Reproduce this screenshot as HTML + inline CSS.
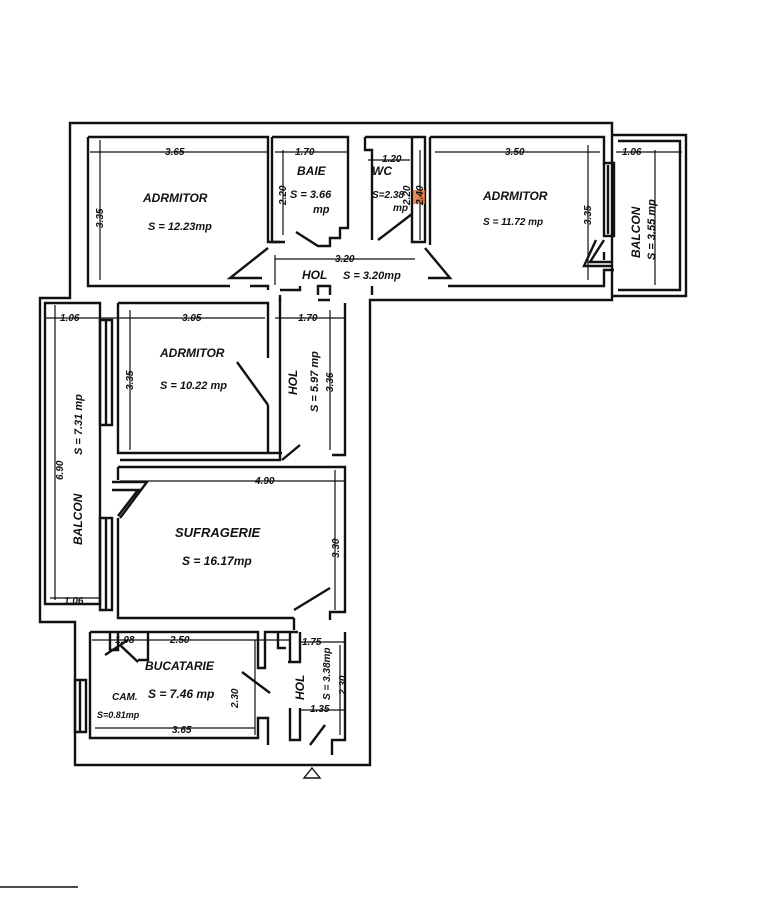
<!DOCTYPE html>
<html><head><meta charset="utf-8"><style>
html,body{margin:0;padding:0;background:#fff;width:768px;height:900px;overflow:hidden}
svg{display:block}
text{font-family:"Liberation Sans",sans-serif;font-style:italic;font-weight:bold;fill:#111}
</style></head><body>
<svg width="768" height="900" viewBox="0 0 768 900" xmlns="http://www.w3.org/2000/svg">
<g fill="none" stroke="#111" stroke-width="2.4">
<!-- outer -->
<path d="M70,123 H612 V300 H370 V765 H75 V622 H40 V298 H70 Z"/>
<!-- right balcony -->
<path d="M612,135 H686 V296 H612"/>
<path d="M618,141 H680 V290 H618"/>
<!-- bedroom 1 -->
<path d="M88,137 H268 V242 H280 M88,137 V286 H230 M250,286 H268 V290"/>
<!-- bath -->
<path d="M272,137 V242 H285 M296,232 L318,246 H330 V238 H340 V228 H348 V137 H272"/>
<!-- wc -->
<path d="M365,137 V150 H372 V240 M412,137 V242 H425 V137 H365 M412,137"/>
<path d="M378,240 L412,214"/>
<!-- bedroom 2 right -->
<path d="M430,137 V242 M430,242 V245 M448,286 H604 V270 H614 M430,137 H604 V165 M604,252 V260"/>
<path d="M604,163 H614 V236 H604 Z M608,165 V234"/>
<path d="M604,240 L590,262 H612 M596,240 L584,266 H612"/>
<!-- hall doors top -->
<path d="M268,248 L230,278 H262 M425,248 L450,278 H428"/>
<path d="M318,295 V286 H330 V295 M372,286 V295"/>
<path d="M280,290 H300 V286 M318,300 H330"/>
<!-- left balcony -->
<path d="M45,303 H100 V604 H45 Z"/>
<path d="M100,320 V425 H112 V320 Z M106,320 V425"/>
<path d="M100,518 V610 H112 V518 Z M106,518 V610"/>
<!-- bedroom 3 -->
<path d="M118,303 H268 V358 M118,303 V453 H282 M268,405 V453"/>
<path d="M237,362 L268,405"/>
<path d="M280,303 V295 M345,303 V455 H332 M282,460 L300,445"/>
<path d="M280,298 V460 H120"/>
<!-- sufragerie -->
<path d="M118,467 H345 V612 H330 V620 M118,467 V480 M118,518 V618 H294"/>
<path d="M112,482 L147,482 L120,518 M112,490 L138,490 L118,516"/>
<path d="M294,618 V630 M294,610 L330,588"/>
<!-- kitchen -->
<path d="M90,632 H258 V668 H265 V632 H298 M90,632 V738 H258 V718 H268 V745 M75,680 V732 H86 V680 Z M80,680 V732"/>
<path d="M110,632 V650 H118 V632 M148,632 V660 H138"/>
<path d="M120,645 L138,662 M105,655 L128,640"/>
<path d="M242,672 L270,693"/>
<!-- hol bottom -->
<path d="M300,632 V662 H290 V632 M300,662 H288 M345,632 V740 H332 V755 M300,708 V740 H290 V708 M310,745 L325,725"/>
<path d="M278,632 V648 H286"/>
<!-- dimension lines -->
<g stroke-width="1.2">
<path d="M90,152 H268 M275,152 H348 M368,160 H410 M435,152 H600 M616,152 H682"/>
<path d="M100,140 V280 M283,150 V235 M420,150 V240 M588,145 V280 M655,150 V285"/>
<path d="M275,259 H415 M275,255 V285"/>
<path d="M45,318 H265 M275,318 H345 M55,305 V600 M130,310 V450 M330,310 V450"/>
<path d="M120,481 H345 M335,470 V610 M50,598 H100"/>
<path d="M92,640 H290 M255,640 V735 M95,728 H255 M300,642 H345 M300,710 H345 M340,645 V735"/>
</g>
<path d="M312,768 L320,778 L304,778 Z" stroke-width="1.4"/>
<path d="M0,887 H78" stroke-width="1.4"/>
</g>
<rect x="413" y="190" width="12" height="14" fill="#e07030" opacity="0.8"/>
<!-- labels -->
<g font-size="10">
<text x="165" y="155">3.65</text>
<text x="295" y="155">1.70</text>
<text x="382" y="162">1.20</text>
<text x="505" y="155">3.50</text>
<text x="622" y="155">1.06</text>
<text x="335" y="262">3.20</text>
<text x="60" y="321">1.06</text>
<text x="182" y="321">3.05</text>
<text x="298" y="321">1.70</text>
<text x="255" y="484">4.90</text>
<text x="64" y="604">1.06</text>
<text x="115" y="643">1.08</text>
<text x="170" y="643">2.50</text>
<text x="302" y="645">1.75</text>
<text x="172" y="733">3.65</text>
<text x="310" y="712">1.35</text>
</g>
<g font-size="10">
<text transform="translate(103,228) rotate(-90)">3.35</text>
<text transform="translate(286,205) rotate(-90)">2.20</text>
<text transform="translate(410,205) rotate(-90)">2.20</text>
<text transform="translate(423,205) rotate(-90)">2.40</text>
<text transform="translate(591,225) rotate(-90)">3.35</text>
<text transform="translate(133,390) rotate(-90)">3.35</text>
<text transform="translate(333,392) rotate(-90)">3.36</text>
<text transform="translate(63,480) rotate(-90)">6.90</text>
<text transform="translate(339,558) rotate(-90)">3.30</text>
<text transform="translate(238,708) rotate(-90)">2.30</text>
<text transform="translate(346,695) rotate(-90)">2.30</text>
</g>
<g font-size="12">
<text x="143" y="202">ADRMITOR</text>
<text x="148" y="230" font-size="11" font-weight="normal">S = 12.23mp</text>
<text x="297" y="175">BAIE</text>
<text x="290" y="198" font-size="11">S = 3.66</text>
<text x="313" y="213" font-size="11">mp</text>
<text x="372" y="175">WC</text>
<text x="372" y="198" font-size="10">S=2.38</text>
<text x="393" y="211" font-size="10">mp</text>
<text x="483" y="200">ADRMITOR</text>
<text x="483" y="225" font-size="10" font-weight="normal">S = 11.72 mp</text>
<text x="302" y="279">HOL</text>
<text x="343" y="279" font-size="11">S = 3.20mp</text>
<text x="160" y="357">ADRMITOR</text>
<text x="160" y="389" font-size="11" font-weight="normal">S = 10.22 mp</text>
<text x="175" y="537" font-size="13">SUFRAGERIE</text>
<text x="182" y="565" font-size="12" font-weight="normal">S = 16.17mp</text>
<text x="145" y="670">BUCATARIE</text>
<text x="148" y="698" font-size="12" font-weight="normal">S = 7.46 mp</text>
<text x="112" y="700" font-size="10">CAM.</text>
<text x="97" y="718" font-size="9">S=0.81mp</text>
</g>
<g font-size="12">
<text transform="translate(640,258) rotate(-90)">BALCON</text>
<text transform="translate(655,260) rotate(-90)" font-size="11">S = 3.55 mp</text>
<text transform="translate(297,395) rotate(-90)">HOL</text>
<text transform="translate(318,412) rotate(-90)" font-size="11">S = 5.97 mp</text>
<text transform="translate(82,545) rotate(-90)">BALCON</text>
<text transform="translate(82,455) rotate(-90)" font-size="11">S = 7.31 mp</text>
<text transform="translate(304,700) rotate(-90)">HOL</text>
<text transform="translate(330,700) rotate(-90)" font-size="10">S = 3.38mp</text>
</g>
</svg>
</body></html>
